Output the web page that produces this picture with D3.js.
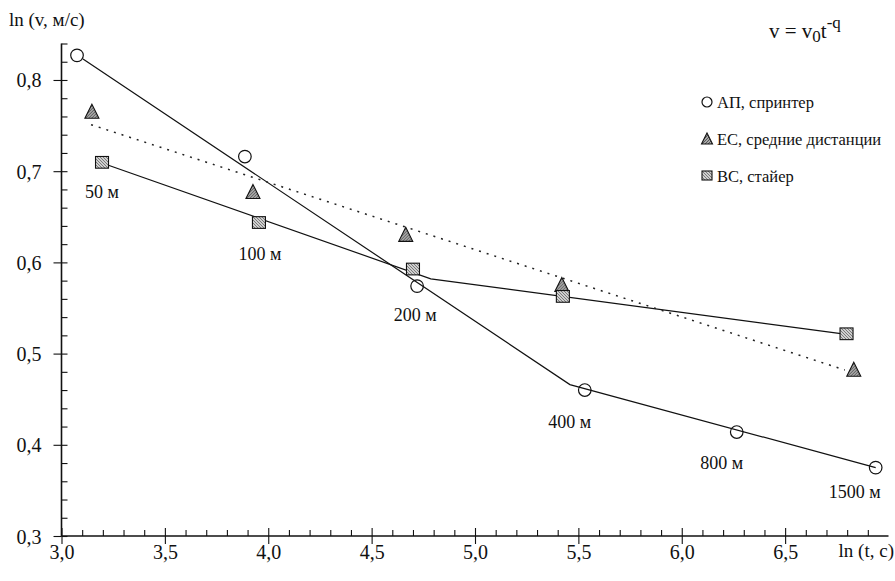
<!DOCTYPE html>
<html>
<head>
<meta charset="utf-8">
<script src="https://cdn.jsdelivr.net/npm/d3@7"></script>
<style>
  html, body { margin: 0; padding: 0; background: #fff; }
  svg { display: block; }
  svg text { font-family: "Liberation Serif", "Times New Roman", Tinos, "DejaVu Serif", serif !important; fill: #111; }
</style>
</head>
<body>
<svg id="chart" width="895" height="581" font-family="Liberation Serif, Times New Roman, serif"></svg>
<script>
// ln(t) and ln(v) values for the three groups of runners
const apX = [3.075, 3.887, 4.720, 5.531, 6.266, 6.938];
const apY = [0.827, 0.716, 0.574, 0.460, 0.414, 0.375];
const ecX = [3.147, 3.926, 4.665, 5.420, 6.832];
const ecY = [0.765, 0.677, 0.630, 0.575, 0.482];
const bcX = [3.196, 3.955, 4.700, 5.425, 6.797];
const bcY = [0.709, 0.643, 0.592, 0.562, 0.521];

// fitted lines (ln t, ln v)
const apFitX = [3.104, 5.459, 6.938];
const apFitY = [0.823, 0.466, 0.375];
const ecFitX = [3.143, 6.789];
const ecFitY = [0.751, 0.482];
const bcFitX = [3.196, 4.786, 6.797];
const bcFitY = [0.709, 0.582, 0.521];

// axis ticks
const xMajor = [3.0, 3.5, 4.0, 4.5, 5.0, 5.5, 6.0, 6.5];
const xMinor = d3.range(31, 70).map(d => d / 10).filter(d => Math.round(d * 10) % 5 !== 0);
const yMajor = [0.3, 0.4, 0.5, 0.6, 0.7, 0.8];
const yMinor = d3.range(16, 43).map(d => d / 50).filter(d => Math.round(d * 50) % 5 !== 0);

const distanceLabels = ["50 м", "100 м", "200 м", "400 м", "800 м", "1500 м"];
const legendNames = ["АП, спринтер", "ЕС, средние дистанции", "ВС, стайер"];

// label placement: which series point each distance label sits under, plus pixel offset
const labelAnchors = [
  { s: "bc", i: 0, dx: 0, dy: 35 },
  { s: "bc", i: 1, dx: 1, dy: 37 },
  { s: "ap", i: 2, dx: -2, dy: 35 },
  { s: "ap", i: 3, dx: -15, dy: 38 },
  { s: "ap", i: 4, dx: -15, dy: 37 },
  { s: "ap", i: 5, dx: -21, dy: 30 }
];

const svg = d3.select("#chart");
const x = d3.scaleLinear().domain([3.0, 7.0]).range([61.5, 888.5]);
const y = d3.scaleLinear().domain([0.3, 0.84]).range([536, 43.5]);

// patterns for the textured markers
const defs = svg.append("defs");
const pTri = defs.append("pattern").attr("id", "hatchDark")
  .attr("patternUnits", "userSpaceOnUse").attr("width", 3).attr("height", 3);
pTri.append("rect").attr("width", 3).attr("height", 3).attr("fill", "#a8a8a8");
pTri.append("path").attr("d", "M0,3L3,0").attr("stroke", "#333").attr("stroke-width", 0.7);
const pSq = defs.append("pattern").attr("id", "hatchLight")
  .attr("patternUnits", "userSpaceOnUse").attr("width", 3).attr("height", 3);
pSq.append("rect").attr("width", 3).attr("height", 3).attr("fill", "#cfcfcf");
pSq.append("path").attr("d", "M0,0L3,3").attr("stroke", "#555").attr("stroke-width", 0.7);

// ---- axes ----
const axisY0 = y(0.3), axisX0 = x(3.0);
const fmt = d => d3.format(".1f")(d).replace(".", ",");
const gx = svg.append("g");
gx.append("g").attr("transform", `translate(0,${axisY0})`)
  .call(d3.axisBottom(x).tickValues(xMajor).tickSize(8).tickFormat(fmt))
  .call(g => g.select(".domain").remove())
  .call(g => g.selectAll("text").attr("dy", 0).attr("y", 23).style("font-size", "20px"));
gx.append("g").attr("transform", `translate(0,${axisY0})`)
  .call(d3.axisTop(x).tickValues(xMajor).tickSize(8).tickFormat(""))
  .call(g => g.select(".domain").remove());
gx.append("g").attr("transform", `translate(0,${axisY0})`)
  .call(d3.axisTop(x).tickValues(xMinor).tickSize(6).tickFormat(""))
  .call(g => g.select(".domain").remove());
gx.append("line").attr("x1", x(3.0)).attr("x2", x(7.0)).attr("y1", axisY0).attr("y2", axisY0)
  .attr("stroke", "#111").attr("stroke-width", 1.3);

const gy = svg.append("g");
gy.append("g").attr("transform", `translate(${axisX0},0)`)
  .call(d3.axisLeft(y).tickValues(yMajor).tickSize(8).tickPadding(12).tickFormat(fmt))
  .call(g => g.select(".domain").remove())
  .call(g => g.selectAll("text").style("font-size", "20px").attr("dy", "0.35em"));
gy.append("g").attr("transform", `translate(${axisX0},0)`)
  .call(d3.axisRight(y).tickValues(yMajor).tickSize(6).tickFormat(""))
  .call(g => g.select(".domain").remove());
gy.append("g").attr("transform", `translate(${axisX0},0)`)
  .call(d3.axisRight(y).tickValues(yMinor).tickSize(6).tickFormat(""))
  .call(g => g.select(".domain").remove());
gy.append("line").attr("x1", axisX0).attr("x2", axisX0).attr("y1", y(0.3)).attr("y2", y(0.84))
  .attr("stroke", "#111").attr("stroke-width", 1.6);
svg.selectAll(".tick line").attr("stroke", "#111").attr("stroke-width", 1.1);

// axis titles
svg.append("text").attr("x", 9).attr("y", 26).style("font-size", "19px").text("ln (v, м/с)");
svg.append("text").attr("x", 894).attr("y", 557).attr("text-anchor", "end").style("font-size", "19px").text("ln (t, c)");

// ---- fitted lines ----
const line = d3.line().x(d => x(d[0])).y(d => y(d[1]));
const zip = (a, b) => a.map((v, i) => [v, b[i]]);
svg.append("path").datum(zip(apFitX, apFitY)).attr("d", line)
  .attr("fill", "none").attr("stroke", "#111").attr("stroke-width", 1.2);
svg.append("path").datum(zip(bcFitX, bcFitY)).attr("d", line)
  .attr("fill", "none").attr("stroke", "#111").attr("stroke-width", 1.2);
svg.append("path").datum(zip(ecFitX, ecFitY)).attr("d", line)
  .attr("fill", "none").attr("stroke", "#222").attr("stroke-width", 1.5).attr("stroke-dasharray", "2,6");

// ---- markers ----
const triPath = s => `M0,${-s * 0.55}L${s * 0.5},${s * 0.45}L${-s * 0.5},${s * 0.45}Z`;
function drawCircle(g, cx, cy, r) {
  g.append("circle").attr("cx", cx).attr("cy", cy).attr("r", r)
    .attr("fill", "none").attr("stroke", "#111").attr("stroke-width", 1.2);
}
function drawTri(g, cx, cy, s) {
  g.append("path").attr("d", triPath(s)).attr("transform", `translate(${cx},${cy})`)
    .attr("fill", "url(#hatchDark)").attr("stroke", "#111").attr("stroke-width", 1.1);
}
function drawSq(g, cx, cy, s) {
  g.append("rect").attr("x", cx - s / 2).attr("y", cy - s / 2).attr("width", s).attr("height", s * 0.9)
    .attr("fill", "url(#hatchLight)").attr("stroke", "#111").attr("stroke-width", 1.1);
}
const gm = svg.append("g");
apX.forEach((v, i) => drawCircle(gm, x(v), y(apY[i]), 6.3));
ecX.forEach((v, i) => drawTri(gm, x(v), y(ecY[i]), 14));
bcX.forEach((v, i) => drawSq(gm, x(v), y(bcY[i]), 13));

// ---- distance labels ----
const series = { ap: [apX, apY], ec: [ecX, ecY], bc: [bcX, bcY] };
distanceLabels.forEach((t, k) => {
  const a = labelAnchors[k];
  const [sx, sy] = series[a.s];
  svg.append("text").attr("x", x(sx[a.i]) + a.dx).attr("y", y(sy[a.i]) + a.dy)
    .attr("text-anchor", "middle").style("font-size", "18px").text(t);
});

// ---- legend ----
const lg = svg.append("g");
const legX = 707, legY0 = 102, legStep = 37;
drawCircle(lg, legX, legY0, 5);
drawTri(lg, legX, legY0 + legStep, 11);
drawSq(lg, legX, legY0 + 2 * legStep, 10);
legendNames.forEach((t, i) => {
  lg.append("text").attr("x", legX + 10).attr("y", legY0 + i * legStep).attr("dy", "0.35em")
    .style("font-size", "16.5px").text(t);
});

// ---- formula v = v0 t^-q ----
const f = svg.append("text").attr("x", 769).attr("y", 38).style("font-size", "21px");
f.append("tspan").text("v = v");
f.append("tspan").attr("dy", 4).style("font-size", "17px").text("0");
f.append("tspan").attr("dy", -4).text("t");
f.append("tspan").attr("dy", -10).style("font-size", "17px").text("-q");
</script>
</body>
</html>
